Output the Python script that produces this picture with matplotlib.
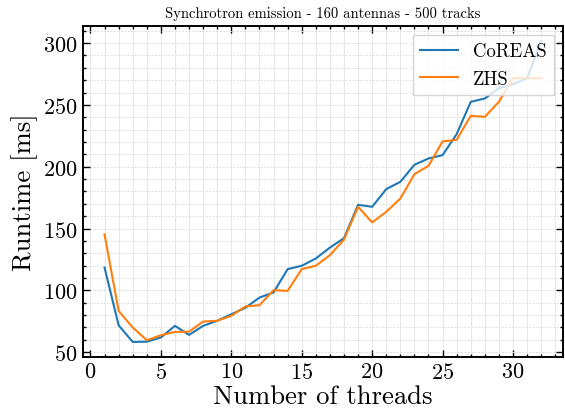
import numpy as np
import matplotlib
matplotlib.use("Agg")
import matplotlib.pyplot as plt
from matplotlib.ticker import MultipleLocator

plt.rcParams['font.family'] = 'serif'
plt.rcParams['font.serif'] = ['cmr10']
plt.rcParams['mathtext.fontset'] = 'cm'
plt.rcParams['axes.formatter.use_mathtext'] = True

threads = np.arange(1, 33)
coreas = [118.5, 71.8, 58.3, 58.5, 61.9, 71.3, 64.0, 71.3, 75.4, 80.7,
          85.9, 94.2, 98.3, 117.2, 119.9, 125.8, 134.6, 142.2, 169.2, 167.6,
          181.9, 187.8, 201.6, 206.7, 209.4, 226.4, 252.5, 255.2, 263.5, 266.8,
          271.5, 301.9]
zhs = [145.4, 83.4, 70.0, 59.7, 63.7, 66.4, 66.6, 74.8, 75.4, 79.4,
       87.0, 88.0, 100.2, 99.6, 117.2, 119.9, 128.5, 141.0, 167.6, 155.0,
       163.5, 174.3, 194.0, 200.7, 220.5, 221.8, 241.2, 240.4, 252.5, 271.6,
       271.6, 271.6]

fig = plt.figure(figsize=(5.65, 4.14), dpi=100)
ax = fig.add_axes([82.7 / 565, 56 / 414, (563 - 82.7) / 565, (358 - 26.7) / 414])

ax.plot(threads, coreas, color='#1f77b4', lw=1.5, label='CoREAS')
ax.plot(threads, zhs, color='#ff7f0e', lw=1.5, label='ZHS')

ax.xaxis.set_major_locator(MultipleLocator(5))
ax.xaxis.set_minor_locator(MultipleLocator(1))
ax.yaxis.set_major_locator(MultipleLocator(50))
ax.yaxis.set_minor_locator(MultipleLocator(10))
ax.tick_params(which='both', direction='in', top=True, right=True, labelsize=16, width=1.0)
ax.tick_params(which='major', length=5)
ax.tick_params(which='minor', length=2.5)
for s in ax.spines.values():
    s.set_linewidth(1.4)

# light grid: vertical lines look solid, horizontal ones dashed
ax.xaxis.grid(True, which='both', color='0.9', lw=0.7)
ax.yaxis.grid(True, which='both', color='0.87', lw=0.7, ls=(0, (2, 1.5)))
ax.set_axisbelow(True)

ax.set_xlabel('Number of threads', fontsize=19.2, labelpad=2)
ax.set_ylabel('Runtime [ms]', fontsize=19.2, labelpad=4)
ax.set_title('Synchrotron emission - 160 antennas - 500 tracks', fontsize=10.5, pad=6)
ax.legend(loc='upper right', fontsize=13.5, fancybox=False, edgecolor='0.8')

fig.savefig('out.png', dpi=100)
